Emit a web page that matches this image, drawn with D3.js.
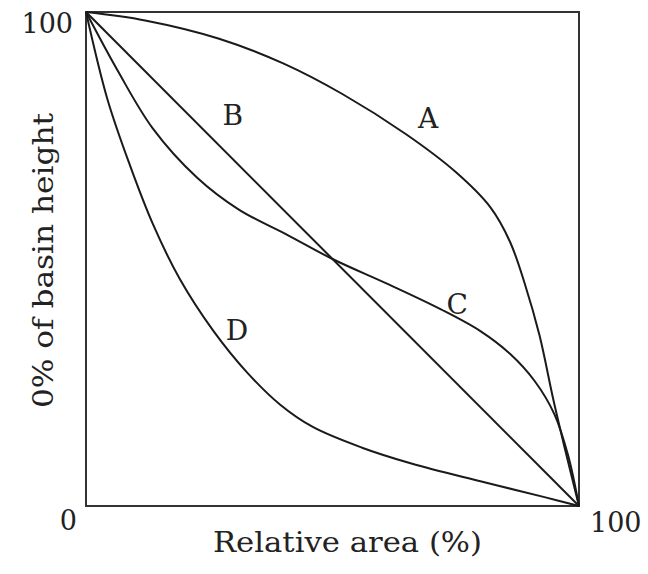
<!DOCTYPE html>
<html>
<head>
<meta charset="utf-8">
<script src="https://cdn.jsdelivr.net/npm/d3@7"></script>
<style>
  body { margin: 0; background: #fff; }
  text { font-family: "DejaVu Serif", "Liberation Serif", serif; fill: #222; }
</style>
</head>
<body>
<div id="grafico"></div>
<script>
// hypsometric curves, relative area (%) vs % of basin height
const curvaA = [[0,100],[12,98.3],[27,94.6],[40,89.6],[52,83.4],[65,75.2],[75,67.6],[82,60.5],[86,53.5],[89,45],[92,34.5],[94.8,21.5],[97.4,10.5],[100,0]];
const curvaB = [[0,100],[100,0]];
const curvaC = [[0,100],[6.5,88],[13.5,76.5],[22.5,66.5],[31,60],[41,54.8],[50,50],[61.5,44.8],[72,39.8],[80,35.4],[86,30.8],[91,25.3],[95,18.6],[97.8,10.2],[100,0]];
const curvaD = [[0,100],[4.3,82.5],[8.9,69],[13.6,57],[19,46],[25.8,35.5],[32.7,27],[39.4,20.5],[46,16],[56,11.8],[66,8.6],[80,5],[93,1.8],[100,0]];
const etiquetas = ["A", "B", "C", "D"];
const posEtiquetas = [[69.4,78.4],[29.8,79.1],[75.3,40.7],[30.6,35.6]];
const ticksX = [0, 100];
const ticksY = [100];

const width = 648, height = 574;
const margen = {top: 12, right: 69, bottom: 68, left: 86};

const svg = d3.select("#grafico")
    .append("svg")
    .attr("width", width)
    .attr("height", height);

const x = d3.scaleLinear().domain([0, 100]).range([margen.left, width - margen.right]);
const y = d3.scaleLinear().domain([0, 100]).range([height - margen.bottom, margen.top]);

const linea = d3.line()
    .x(d => x(d[0]))
    .y(d => y(d[1]))
    .curve(d3.curveCatmullRom.alpha(0.5));

// marco
svg.append("rect")
    .attr("x", x(0))
    .attr("y", y(100))
    .attr("width", x(100) - x(0))
    .attr("height", y(0) - y(100))
    .attr("fill", "none")
    .attr("stroke", "#333")
    .attr("stroke-width", 2);

[curvaA, curvaB, curvaC, curvaD].forEach(function(c) {
    svg.append("path")
        .datum(c)
        .attr("d", linea)
        .attr("fill", "none")
        .attr("stroke", "#1a1a1a")
        .attr("stroke-width", 2);
});

svg.selectAll("text.etq")
    .data(etiquetas)
    .enter().append("text")
    .attr("class", "etq")
    .attr("x", (d, i) => x(posEtiquetas[i][0]))
    .attr("y", (d, i) => y(posEtiquetas[i][1]))
    .attr("text-anchor", "middle")
    .attr("dominant-baseline", "central")
    .attr("font-size", 28)
    .text(d => d);

// ticks
svg.selectAll("text.ty")
    .data(ticksY)
    .enter().append("text")
    .attr("class", "ty")
    .attr("x", x(0) - 13)
    .attr("y", d => y(d) + 21)
    .attr("text-anchor", "end")
    .attr("font-size", 27)
    .text(d => d);

svg.selectAll("text.tx")
    .data(ticksX)
    .enter().append("text")
    .attr("class", "tx")
    .attr("x", d => d === 0 ? x(d) - 9 : x(d) + 11)
    .attr("y", d => y(0) + (d === 0 ? 24 : 26))
    .attr("text-anchor", d => d === 0 ? "end" : "start")
    .attr("font-size", 27)
    .text(d => d);

svg.append("text")
    .attr("x", 213)
    .attr("y", 552)
    .attr("font-size", 27)
    .attr("textLength", 269)
    .attr("lengthAdjust", "spacingAndGlyphs")
    .text("Relative area (%)");

svg.append("text")
    .attr("transform", "translate(53,408) rotate(-90)")
    .attr("font-size", 27)
    .attr("textLength", 295)
    .attr("lengthAdjust", "spacingAndGlyphs")
    .text("0% of basin height");
</script>
</body>
</html>
